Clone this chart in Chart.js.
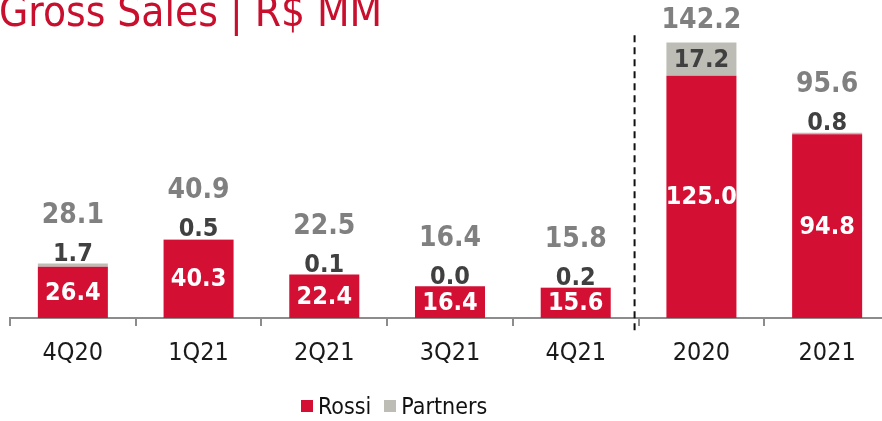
<!DOCTYPE html>
<html><head><meta charset="utf-8">
<script src="https://cdn.jsdelivr.net/npm/chart.js@4/dist/chart.umd.min.js"></script>
<style>
html,body{margin:0;padding:0;width:882px;height:421px;overflow:hidden;background:#fff;}
#wrap{position:relative;width:882px;height:421px;overflow:hidden;}
canvas{position:absolute;left:0;top:0;}
#title{position:absolute;left:-1px;top:-13px;font-family:"DejaVu Sans Condensed","DejaVu Sans",sans-serif;font-size:42px;color:#C8102E;white-space:nowrap;line-height:1.2;}
#legend{position:absolute;top:393px;left:301px;font-family:"DejaVu Sans Condensed","DejaVu Sans",sans-serif;font-size:23px;color:#111;display:flex;align-items:center;white-space:nowrap;}
.sw{display:inline-block;width:12px;height:12px;margin-right:5px;}
.item{display:flex;align-items:center;margin-right:13px;}
</style>
</head><body>
<div id="wrap">
<canvas id="c" width="900" height="421"></canvas>
<div id="title">Gross Sales | R$ MM</div>
<div id="legend"></div>
</div>
<script>
const categories = ['4Q20','1Q21','2Q21','3Q21','4Q21','2020','2021'];
const rossi = [26.4, 40.3, 22.4, 16.4, 15.6, 125.0, 94.8];
const partners = [1.7, 0.5, 0.1, 0.0, 0.2, 17.2, 0.8];
const totals = [28.1, 40.9, 22.5, 16.4, 15.8, 142.2, 95.6];
const seriesNames = ['Rossi', 'Partners'];
const seriesColors = ['#D31034', '#BDBDB6'];

const FONT = '"DejaVu Sans Condensed","DejaVu Sans",sans-serif';

const lg = document.getElementById('legend');
seriesNames.forEach((n, i) => {
  const it = document.createElement('span'); it.className = 'item';
  const sw = document.createElement('span'); sw.className = 'sw'; sw.style.background = seriesColors[i];
  const tx = document.createElement('span'); tx.textContent = n;
  it.appendChild(sw); it.appendChild(tx); lg.appendChild(it);
});

const labelPlugin = {
  id: 'labels',
  afterDatasetsDraw(chart) {
    const ctx = chart.ctx, y = chart.scales.y, xs = chart.scales.x;
    const m0 = chart.getDatasetMeta(0);
    ctx.save();
    ctx.textAlign = 'center'; ctx.textBaseline = 'middle';
    categories.forEach((c, i) => {
      const x = m0.data[i].x;
      const yB = y.getPixelForValue(0), yR = y.getPixelForValue(rossi[i]), yT = y.getPixelForValue(totals[i]);
      ctx.font = 'bold 25px ' + FONT; ctx.fillStyle = '#ffffff';
      ctx.fillText(rossi[i].toFixed(1), x, (yB + yR) / 2 + 1);
      const segH = yR - yT;
      let pY, tY;
      if (segH > 25) { pY = (yR + yT) / 2 + 1; tY = yT - 22; } else { pY = yT - 9; tY = yT - 48; }
      ctx.fillStyle = '#404040';
      ctx.fillText(partners[i].toFixed(1), x, pY);
      ctx.font = 'bold 28px ' + FONT; ctx.fillStyle = '#808080';
      ctx.fillText(totals[i].toFixed(1), x, tY);
    });
    const xl = (xs.getPixelForValue(4) + xs.getPixelForValue(5)) / 2 - 4;
    ctx.setLineDash([7, 5]); ctx.lineWidth = 2; ctx.strokeStyle = '#111';
    ctx.beginPath(); ctx.moveTo(xl, y.getPixelForValue(146)); ctx.lineTo(xl, y.getPixelForValue(0) + 14); ctx.stroke();
    ctx.restore();
  }
};

new Chart(document.getElementById('c'), {
  type: 'bar',
  data: {
    labels: categories,
    datasets: [
      { label: seriesNames[0], data: rossi, backgroundColor: seriesColors[0], barPercentage: 0.557, categoryPercentage: 1 },
      { label: seriesNames[1], data: partners, backgroundColor: seriesColors[1], barPercentage: 0.557, categoryPercentage: 1 }
    ]
  },
  options: {
    responsive: false, animation: false, devicePixelRatio: 1,
    layout: { padding: { left: 10, right: 10, top: 8, bottom: 0 } },
    plugins: { legend: { display: false }, tooltip: { enabled: false } },
    scales: {
      x: {
        stacked: true,
        grid: { display: true, drawOnChartArea: false, drawTicks: true, tickLength: 8, color: '#8c8c8c', lineWidth: 2, offset: true },
        border: { display: true, color: '#8c8c8c', width: 2 },
        ticks: { font: { family: FONT, size: 25 }, color: '#1a1a1a', padding: 12 },
        afterFit(s) { s.height = 103; }
      },
      y: { stacked: true, display: false, min: 0, max: 160 }
    }
  },
  plugins: [labelPlugin]
});
</script>
</body></html>
